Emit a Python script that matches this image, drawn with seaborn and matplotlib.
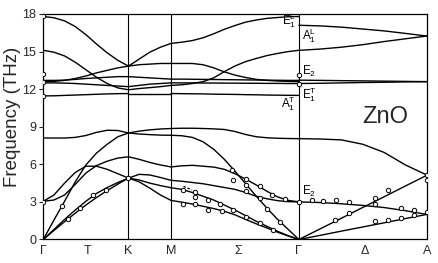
import matplotlib
matplotlib.use("Agg")
import matplotlib.pyplot as plt
import pandas as pd
import seaborn as sns

sns.set_style("ticks")
plt.rcParams["font.family"] = ["Liberation Sans", "DejaVu Sans"]
plt.rcParams["mathtext.default"] = "regular"

# path: Γ - K - M - Γ - A (x in path units)
sym_labels = ["Γ", "T", "K", "M", "Σ", "Γ", "Δ", "A"]
sym_pos = [0, 1.03, 2, 3, 4.58, 6, 7.55, 9]
edge_pos = [2, 3, 6]
freq_ticks = [0, 3, 6, 9, 12, 15, 18]

# Γ - K
gk_x = [0, 0.25, 0.5, 0.75, 1.0, 1.25, 1.5, 1.75, 2.0]
gk_bands = [
    [0, 0.72, 1.42, 2.1, 2.75, 3.35, 3.9, 4.42, 4.9],
    [0, 0.8, 1.6, 2.35, 3.05, 3.68, 4.15, 4.55, 4.9],
    [0, 1.55, 3.05, 4.6, 5.95, 6.9, 7.6, 8.2, 8.5],
    [3.05, 3.55, 4.5, 5.35, 5.85, 5.85, 5.6, 5.25, 4.9],
    [3.05, 3.15, 3.55, 4.4, 5.3, 5.9, 6.25, 6.5, 6.6],
    [8.1, 8.1, 8.1, 8.15, 8.3, 8.55, 8.72, 8.7, 8.5],
    [11.46, 11.47, 11.5, 11.53, 11.56, 11.59, 11.62, 11.64, 11.65],
    [15.1, 14.95, 14.65, 14.15, 13.55, 12.95, 12.45, 12.1, 11.95],
    [17.8, 17.7, 17.45, 17.0, 16.35, 15.6, 14.9, 14.3, 13.84],
    [12.6, 12.62, 12.7, 12.85, 13.05, 13.3, 13.5, 13.7, 13.84],
    [12.7, 12.7, 12.72, 12.78, 12.85, 12.9, 12.95, 13.0, 13.0],
    [12.5, 12.5, 12.48, 12.45, 12.4, 12.35, 12.3, 12.25, 12.2],
]

# K - M
km_x = [2.0, 2.25, 2.5, 2.75, 3.0]
km_bands = [
    [4.9, 4.6, 4.1, 3.55, 3.12],
    [4.9, 4.75, 4.5, 4.3, 4.13],
    [4.9, 5.2, 5.15, 4.95, 4.72],
    [6.6, 6.4, 6.15, 5.95, 5.79],
    [8.5, 8.42, 8.37, 8.33, 8.32],
    [8.5, 8.65, 8.75, 8.82, 8.86],
    [11.65, 11.65, 11.65, 11.65, 11.65],
    [11.95, 12.05, 12.12, 12.2, 12.3],
    [13.84, 13.95, 14.0, 14.05, 14.05],
    [13.84, 14.4, 14.95, 15.35, 15.65],
    [13.0, 12.95, 12.9, 12.85, 12.8],
    [12.2, 12.3, 12.4, 12.45, 12.5],
]

# M - Γ
mg_x = [3.0, 3.25, 3.5, 3.75, 4.0, 4.25, 4.5, 4.75, 5.0, 5.25, 5.5, 5.75, 6.0]
mg_bands = [
    [15.65, 15.75, 15.88, 16.1, 16.42, 16.78, 17.08, 17.35, 17.52, 17.65, 17.72, 17.78, 17.8],
    [14.05, 14.05, 14.05, 13.95, 13.7, 13.38, 13.12, 12.93, 12.78, 12.7, 12.65, 12.62, 12.6],
    [12.3, 12.35, 12.45, 12.6, 12.9, 13.4, 13.85, 14.2, 14.45, 14.68, 14.85, 15.0, 15.1],
    [12.8, 12.8, 12.79, 12.78, 12.77, 12.76, 12.75, 12.74, 12.73, 12.72, 12.71, 12.7, 12.7],
    [12.5, 12.5, 12.5, 12.49, 12.49, 12.48, 12.48, 12.47, 12.47, 12.46, 12.46, 12.45, 12.45],
    [11.65, 11.64, 11.63, 11.62, 11.6, 11.59, 11.58, 11.56, 11.55, 11.53, 11.52, 11.51, 11.5],
    [8.86, 8.88, 8.88, 8.86, 8.83, 8.78, 8.62, 8.38, 8.2, 8.12, 8.08, 8.06, 8.05],
    [8.32, 8.28, 8.15, 7.8, 7.2, 6.4, 5.45, 4.45, 3.45, 2.5, 1.6, 0.8, 0],
    [5.79, 5.88, 5.92, 5.85, 5.78, 5.6, 5.25, 4.82, 4.35, 3.85, 3.4, 3.12, 3.0],
    [4.72, 4.65, 4.55, 4.45, 4.3, 4.15, 4.0, 3.75, 3.45, 3.25, 3.1, 3.02, 3.0],
    [4.13, 4.0, 3.75, 3.45, 3.15, 2.75, 2.35, 1.9, 1.45, 1.05, 0.65, 0.3, 0],
    [3.12, 2.98, 2.83, 2.65, 2.47, 2.25, 1.97, 1.6, 1.25, 0.92, 0.58, 0.28, 0],
]

# Γ - A
ga_x = [6.0, 6.5, 7.0, 7.5, 8.0, 8.5, 9.0]
ga_bands = [
    [17.1, 17.05, 16.95, 16.8, 16.65, 16.45, 16.24],
    [15.1, 15.2, 15.35, 15.55, 15.8, 16.02, 16.24],
    [12.72, 12.7, 12.68, 12.66, 12.64, 12.62, 12.6],
    [12.45, 12.47, 12.5, 12.53, 12.55, 12.58, 12.6],
    [8.05, 8.02, 7.95, 7.6, 6.95, 5.95, 5.15],
    [0, 0.85, 1.7, 2.56, 3.41, 4.27, 5.12],
    [0, 0.33, 0.67, 1.0, 1.33, 1.67, 2.0],
    [3.0, 2.95, 2.85, 2.72, 2.55, 2.3, 2.0],
]

# measured points (open circles)
exp_x = [0, 0, 0, 0, 0,
         0.43, 0.59, 0.86, 1.17, 1.47, 2.0,
         3.29, 3.56, 3.56, 3.29, 3.56, 3.87, 3.87, 4.15, 4.19, 4.46, 4.77, 5.09, 5.4,
         4.42, 4.46, 4.77, 4.77, 4.77, 5.09, 5.09, 5.24, 5.36, 5.56, 5.67,
         6, 6, 6,
         6.3, 6.57, 6.87, 7.18, 7.79, 8.4, 8.69, 8.69, 9,
         7.79, 8.08, 8.4, 6.85, 7.18, 7.79, 8.08, 9, 9]
exp_f = [17.84, 13.2, 12.58, 11.46, 3.0,
         2.64, 1.65, 2.5, 3.58, 3.92, 4.9,
         3.92, 3.79, 3.39, 2.85, 2.8, 3.12, 2.37, 2.85, 2.25, 2.32, 1.8, 1.31, 0.75,
         5.55, 4.72, 4.84, 4.32, 3.9, 4.28, 3.3, 2.45, 3.52, 1.39, 3.25,
         13.1, 12.45, 3.0,
         3.17, 3.04, 3.12, 2.99, 2.8, 2.5, 2.32, 1.92, 2.18,
         1.44, 1.57, 1.74, 1.57, 2.1, 3.3, 3.92, 5.17, 4.78]

dash_x = [3.29, 3.49]
dash_f = [4.24, 3.97]

rows = []
for seg, xs, bands in [("gk", gk_x, gk_bands), ("km", km_x, km_bands),
                       ("mg", mg_x, mg_bands), ("ga", ga_x, ga_bands)]:
    for i, vals in enumerate(bands):
        for x, f in zip(xs, vals):
            rows.append((f"{seg}{i}", x, f))
df = pd.DataFrame(rows, columns=["branch", "x", "freq"])

fig = plt.figure(figsize=(4.39, 2.63), dpi=100)
ax = fig.add_axes([0.0986, 0.0894, 0.8734, 0.8574])

sns.lineplot(data=df, x="x", y="freq", units="branch", estimator=None, sort=False,
             color="black", linewidth=1.0, ax=ax)
ax.plot(dash_x, dash_f, color="black", linewidth=0.9, linestyle=(0, (2, 1.5)))
sns.scatterplot(x=exp_x, y=exp_f, s=10, facecolor="white", edgecolor="black",
                linewidth=0.7, zorder=5, ax=ax)

for xp in edge_pos:
    ax.axvline(xp, color="black", linewidth=0.8)

ax.set_xlim(0, 9)
ax.set_ylim(0, 18)
ax.set_xticks(sym_pos)
ax.set_xticklabels(sym_labels, fontsize=9)
ax.set_yticks(freq_ticks)
ax.set_yticklabels([str(t) for t in freq_ticks], fontsize=9)
ax.tick_params(axis="x", length=0, pad=4)
ax.tick_params(axis="y", direction="out", length=3, width=0.8, pad=2)
ax.set_xlabel("")
ax.set_ylabel("")
for sp in ax.spines.values():
    sp.set_linewidth(0.9)
    sp.set_color("black")

lab = dict(fontsize=8.5, color="black", va="center")
ax.text(5.93, 17.45, "$E_1^L$", ha="right", **lab)
ax.text(6.07, 16.3, "$A_1^L$", ha="left", **lab)
ax.text(6.07, 13.4, "$E_2$", ha="left", **lab)
ax.text(6.07, 11.55, "$E_1^T$", ha="left", **lab)
ax.text(5.93, 10.85, "$A_1^T$", ha="right", **lab)
ax.text(6.07, 3.8, "$E_2$", ha="left", **lab)
ax.text(8.02, 9.74, "ZnO", fontsize=17, ha="center", va="center")

fig.text(13 / 439, 1 - 117 / 263, "Frequency (THz)", rotation=90,
         ha="center", va="center", fontsize=13.5)

fig.savefig("out.png", dpi=100)
